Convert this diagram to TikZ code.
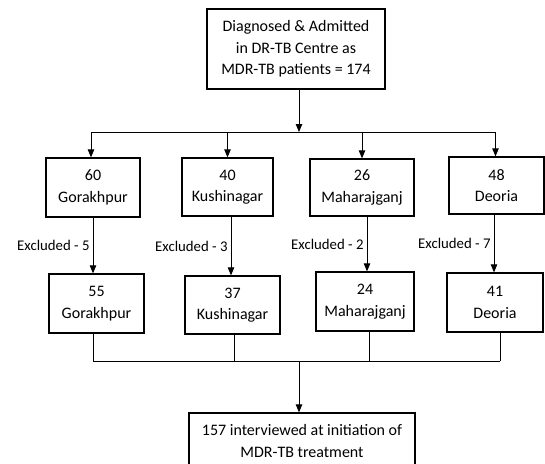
\documentclass[tikz,border=0pt]{standalone}
\usepackage{fontspec}
\setmainfont{Carlito}
\usetikzlibrary{arrows.meta}
\begin{document}
\begin{tikzpicture}[x=1pt,y=-1pt,
  box/.style={draw, line width=1.3pt, inner sep=0pt, align=center,
    font=\fontsize{16}{21.5}\selectfont},
  conn/.style={line width=0.8pt},
  arr/.style={conn, -{Triangle[length=8pt,width=6.5pt]}},
  lbl/.style={font=\fontsize{14.8}{17}\selectfont, inner sep=3pt}]
\useasboundingbox[fill=white] (0,0) rectangle (545,463);
% top box
\node[box, minimum width=178pt, minimum height=80pt] (top) at (296,49)
  {Diagnosed \& Admitted\\in DR-TB Centre as\\MDR-TB patients = 174};
% row 1
\node[box, minimum width=94pt, minimum height=59pt] (g1) at (93,187.5) {60\\Gorakhpur};
\node[box, minimum width=91pt, minimum height=58pt] (k1) at (227.5,187) {40\\Kushinagar};
\node[box, minimum width=104pt, minimum height=57pt] (m1) at (362,187.5) {26\\Maharajganj};
\node[box, minimum width=95pt, minimum height=57pt] (d1) at (496.5,185.5) {48\\Deoria};
% row 2
\node[box, minimum width=95pt, minimum height=59pt] (g2) at (96.5,303.5) {55\\Gorakhpur};
\node[box, minimum width=95pt, minimum height=58pt] (k2) at (232.5,305) {37\\Kushinagar};
\node[box, minimum width=98pt, minimum height=59pt] (m2) at (365,301.5) {24\\Maharajganj};
\node[box, minimum width=96pt, minimum height=59pt] (d2) at (495,302.5) {41\\Deoria};
% bottom box
\node[box, minimum width=226pt, minimum height=56pt] (bot) at (302,441)
  {157 interviewed at initiation of\\MDR-TB treatment};
% junction coordinates
\coordinate (hs) at (299,132);
\coordinate (hl) at (91,132);
\coordinate (hr) at (495.5,132);
\coordinate (bl) at (93,361);
\coordinate (br) at (500,361);
\coordinate (bs) at (299,361);
% top to split line
\draw[arr] (top.south -| hs) -- (hs);
\draw[conn] (hl) -- (hr);
\draw[arr] (hl) -- (hl |- g1.north);
\draw[arr] (k1.north |- hs) -- (k1.north);
\draw[arr] (m1.north |- hs) -- (m1.north);
\draw[arr] (hr) -- (hr |- d1.north);
% row1 to row2 with exclusion labels
\draw[arr] ([xshift=-3.5pt]g2.north |- g1.south) -- node[lbl, left] {Excluded - 5} ([xshift=-3.5pt]g2.north);
\draw[arr] ([xshift=-1.5pt]k2.north |- k1.south) -- node[lbl, left] {Excluded - 3} ([xshift=-1.5pt]k2.north);
\draw[arr] ([xshift=2pt]m2.north |- m1.south) -- node[lbl, left] {Excluded - 2} ([xshift=2pt]m2.north);
\draw[arr] ([xshift=-1pt]d2.north |- d1.south) -- node[lbl, left] {Excluded - 7} ([xshift=-1pt]d2.north);
% merge
\draw[conn] (bl |- g2.south) -- (bl);
\draw[conn] ([xshift=1.5pt]k2.south) -- ([xshift=1.5pt]k2.south |- bl);
\draw[conn] ([xshift=4pt]m2.south) -- ([xshift=4pt]m2.south |- bl);
\draw[conn] (br |- d2.south) -- (br);
\draw[conn] (bl) -- (br);
\draw[arr] (bs) -- (bs |- bot.north);
\end{tikzpicture}
\end{document}
